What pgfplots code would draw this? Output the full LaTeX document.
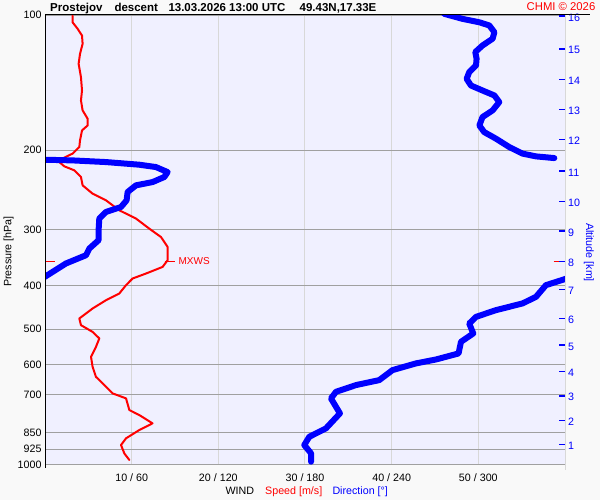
\documentclass[border=0pt]{standalone}
\usepackage{fontspec}
\setmainfont{Liberation Sans}
\usepackage{pgfplots}
\usepackage{pgfplotstable}
\pgfplotsset{compat=1.18}
\definecolor{plotbg}{HTML}{F0F0FF}
\definecolor{outerbg}{HTML}{F9F9F9}
\definecolor{hgrid}{HTML}{A0A0A0}
\definecolor{vgrid}{HTML}{D8D8D8}
\definecolor{myblue}{HTML}{0000FF}
\definecolor{myred}{HTML}{FF0000}

% wind speed [m/s] vs pressure [hPa]
\pgfplotstableread{
spd p
3.18 100.3
3.18 103.8
3.76 107.3
4.27 111.1
4.34 115.9
4.04 122.0
3.88 128.4
4.15 137.5
4.27 147.2
4.15 154.9
4.34 163.0
4.92 170.1
4.92 176.1
4.27 180.6
4.04 190.1
3.96 196.7
3.18 203.4
2.23 207.6
1.65 212.4
2.23 217.1
3.38 221.6
4.15 229.3
4.34 239.3
5.49 249.7
7.04 258.4
8.57 271.9
10.50 283.7
12.03 298.7
13.38 311.8
14.15 328.1
14.15 351.2
13.57 363.5
11.65 376.0
10.11 385.7
9.35 399.1
8.57 416.5
7.04 431.0
5.49 449.7
3.96 473.3
4.15 489.8
5.49 506.9
6.27 524.3
5.88 547.4
5.31 576.1
5.49 606.3
5.88 638.1
7.04 671.6
7.80 694.7
9.35 712.7
9.73 756.6
10.88 776.2
12.41 809.9
10.88 838.1
9.35 874.5
8.77 905.0
9.15 944.3
9.73 977.2
}\speed

% wind direction [deg] vs pressure [hPa], split where it wraps 360/0
\pgfplotstableread{
dir p
276.4 99.4
289.1 102.0
300.7 103.8
307.6 105.5
311.1 109.2
309.9 112.9
302.9 116.9
297.9 120.9
298.8 125.1
298.4 129.5
293.7 134.0
291.9 138.7
294.9 143.5
302.9 147.2
311.1 151.0
314.5 156.2
309.9 163.0
302.9 168.7
300.7 176.1
304.1 182.2
312.2 188.4
321.4 196.7
330.6 203.4
339.9 206.3
352.6 208.1
}\dirA

\pgfplotstableread{
dir p
-2 209.8
19.1 210.6
42.2 212.4
65.3 215.3
76.8 217.9
84.9 223.6
82.6 229.3
74.5 235.3
63.0 239.3
57.2 247.6
56.5 258.4
52.6 267.4
42.2 274.3
37.6 283.7
37.1 301.2
37.1 317.0
30.7 330.8
28.4 342.3
14.5 357.1
-1 384.0
}\dirB

\pgfplotstableread{
dir p
362 385.0
346.8 399.1
339.9 423.7
330.6 438.2
312.2 453.5
298.4 469.4
293.7 485.6
296.5 511.0
288.0 533.4
286.3 566.2
270.7 583.9
256.8 595.8
240.6 616.6
231.4 649.0
215.3 665.8
201.5 689.0
198.0 712.8
204.2 769.5
194.5 831.1
183.0 867.4
179.5 905.0
184.2 944.3
184.2 985.8
}\dirC

\newcommand{\lab}{\fontsize{10.7pt}{12pt}\selectfont}

\begin{document}
\begin{tikzpicture}[x=1pt,y=1pt]
\path[use as bounding box, fill=outerbg] (0,0) rectangle (600,500);

\begin{axis}[
  at={(45pt,35.5pt)}, anchor=south west,
  scale only axis, width=520pt, height=449.5pt,
  xmin=0, xmax=60, ymode=log, ymin=100, ymax=1000, y dir=reverse,
  axis background/.style={fill=plotbg},
  axis line style={draw=none},
  xtick={10,20,30,40,50},
  xticklabels={10 / 60, 20 / 120, 30 / 180, 40 / 240, 50 / 300},
  ytick={100,200,300,400,500,600,700,850,925,1000},
  yticklabels={100,200,300,400,500,600,700,850,925,1000},
  major tick length=0pt,
  xmajorgrids, ymajorgrids,
  x grid style={vgrid, line width=1pt},
  y grid style={hgrid, line width=1pt},
  tick label style={font=\lab},
  xticklabel style={anchor=base, yshift=-17.2pt},
  /pgf/number format/assume math mode=true,
]
\addplot[myred, line width=2pt, line join=round, line cap=round] table[x=spd, y=p] {\speed};
\addplot[myblue, line width=6pt, line join=round, line cap=round] table[x expr=\thisrow{dir}/6, y=p] {\dirA};
\addplot[myblue, line width=6pt, line join=round, line cap=round] table[x expr=\thisrow{dir}/6, y=p] {\dirB};
\addplot[myblue, line width=6pt, line join=round, line cap=round] table[x expr=\thisrow{dir}/6, y=p] {\dirC};
% max wind marker
\draw[myred, line width=1pt] (axis cs:0,353) -- (axis cs:1.15,353);
\draw[myred, line width=1pt] (axis cs:13.8,353) -- (axis cs:15.0,353);
\draw[myred, line width=1pt] (axis cs:58.7,353) -- (axis cs:59.4,353);
\node[myred, anchor=west, inner sep=0pt, font=\fontsize{10pt}{12pt}\selectfont] at (axis cs:15.4,353) {MXWS};
\end{axis}

\begin{axis}[
  at={(45pt,35.5pt)}, anchor=south west,
  scale only axis, width=520pt, height=449.5pt,
  xmin=0, xmax=60, ymode=log, ymin=100, ymax=1000, y dir=reverse,
  axis x line=none, axis y line*=right, axis line style={draw=none},
  ytick={901.8,799,703.3,621.8,542.6,473.3,408.0,353.1,302.2,260.1,222.4,189.4,162.4,139.3,118.9,100.6},
  yticklabels={1,2,3,4,5,6,7,8,9,10,11,12,13,14,15,16},
  yticklabel style={myblue, font=\lab, inner sep=1pt, xshift=2pt, yshift=-1.5pt},
  y tick style={myblue, line width=1.5pt},
  major tick length=6pt, tick align=inside,
  /pgf/number format/assume math mode=true,
]
\end{axis}

% frame lines
\draw[black, line width=1pt] (45,485) -- (590,485);
\draw[black, line width=1pt] (45,485) -- (45,32);
\draw[vgrid, line width=1pt] (565.5,485) -- (565.5,30);

% titles
\node[anchor=base west, inner sep=0pt, font=\fontsize{11.5pt}{13pt}\selectfont\bfseries] at (50,488.3) {Prostejov};
\node[anchor=base west, inner sep=0pt, font=\fontsize{11.5pt}{13pt}\selectfont\bfseries] at (114.3,488.3) {descent};
\node[anchor=base west, inner sep=0pt, font=\fontsize{11.5pt}{13pt}\selectfont\bfseries] at (168.3,488.3) {13.03.2026 13:00 UTC};
\node[anchor=base west, inner sep=0pt, font=\fontsize{11.5pt}{13pt}\selectfont\bfseries] at (299.5,488.3) {49.43N,17.33E};
\node[anchor=base east, inner sep=0pt, text=myred, font=\fontsize{11.3pt}{13pt}\selectfont] at (595.5,489.5) {CHMI © 2026};

% axis labels
\node[rotate=90, font=\lab] at (8.5,248.5) {Pressure [hPa]};
\node[rotate=-90, text=myblue, font=\lab] at (589,247.5) {Altitude [km]};
\node[anchor=base west, inner sep=0pt, font=\lab] at (225.3,5) {WIND};
\node[anchor=base west, inner sep=0pt, text=myred, font=\lab] at (265,5) {Speed [m/s]};
\node[anchor=base west, inner sep=0pt, text=myblue, font=\lab] at (332.3,5) {Direction [°]};
\end{tikzpicture}
\end{document}
